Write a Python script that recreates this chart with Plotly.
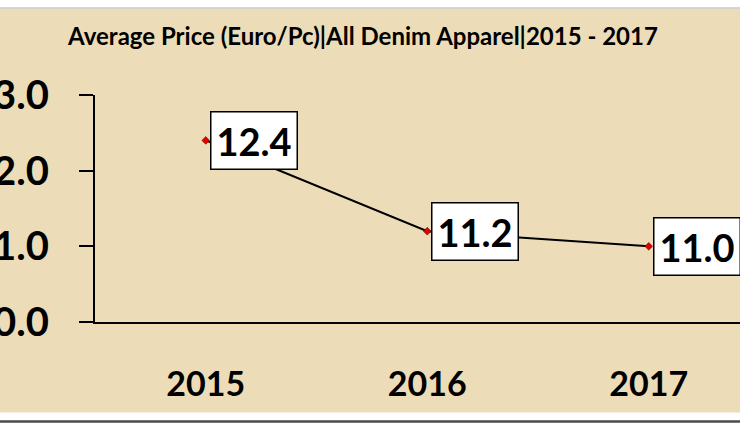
import plotly.graph_objects as go

years = ["2015", "2016", "2017"]
avg_price = [12.4, 11.2, 11.0]
y_ticks = [10.0, 11.0, 12.0, 13.0]
y_tick_labels = ["10.0", "11.0", "12.0", "13.0"]
title_text = "Average Price (Euro/Pc)|All Denim Apparel|2015 - 2017"

W, H = 740, 427
ML, MR, MT, MB = 95, 0, 95, 105
plot_h = H - MT - MB
plot_w = W - ML - MR

def py(px):  # pixel y -> paper y
    return (H - MB - px) / plot_h

def pxx(px):  # pixel x -> paper x
    return (px - ML) / plot_w

FONT = "Lato"
beige = "#ECDDB8"

fig = go.Figure()
fig.add_trace(go.Scatter(
    x=years, y=avg_price, mode="lines+markers",
    line=dict(color="black", width=2),
    marker=dict(symbol="diamond", size=6, color="#E00000",
                line=dict(color="#600000", width=0.5)),
    hoverinfo="skip", showlegend=False,
))

for i, v in enumerate(avg_price):
    fig.add_annotation(
        x=i, y=v, xref="x", yref="y", text=f"<b>{v:.1f}</b>",
        showarrow=False, xanchor="left", yanchor="middle", xshift=4,
        font=dict(family=FONT, size=38, color="black"),
        bgcolor="white", bordercolor="black", borderwidth=1.5, borderpad=5,
    )

shapes = [
    dict(type="rect", xref="paper", yref="paper", x0=pxx(0) - 0.01, x1=pxx(W) + 0.01,
         y0=py(412.5), y1=py(8.5), fillcolor=beige, line=dict(width=0), layer="below"),
    dict(type="line", xref="paper", yref="paper", x0=pxx(0) - 0.01, x1=pxx(W) + 0.01,
         y0=py(8), y1=py(8), line=dict(color="#C8C8C8", width=1.5), layer="below"),
    dict(type="line", xref="paper", yref="paper", x0=pxx(0) - 0.01, x1=pxx(W) + 0.01,
         y0=py(421.5), y1=py(421.5), line=dict(color="#4A4A4A", width=2.5), layer="below"),
]

fig.update_layout(
    width=W, height=H,
    margin=dict(l=ML, r=MR, t=MT, b=MB, pad=0),
    paper_bgcolor="white", plot_bgcolor="rgba(0,0,0,0)",
    shapes=shapes,
    title=dict(text=f"<b>{title_text}</b>", x=363 / W, xanchor="center",
               y=1 - 37 / H, yanchor="middle", yref="container",
               font=dict(family=FONT, size=24, color="black")),
    xaxis=dict(type="category", range=[-0.5, -0.5 + plot_w / 221.5],
               showgrid=False, zeroline=False, showline=True,
               linecolor="black", linewidth=2, ticks="",
               ticklabelstandoff=31,
               tickfont=dict(family=FONT, size=34, color="black"),
               tickprefix="<b>", ticksuffix="</b>"),
    yaxis=dict(range=[10, 13], tickvals=y_ticks, ticktext=[f"<b>{t}</b>" for t in y_tick_labels],
               showgrid=False, zeroline=False, showline=True,
               linecolor="black", linewidth=2, ticks="outside", ticklen=14,
               tickwidth=2, tickcolor="black", ticklabelstandoff=22,
               automargin=False,
               tickfont=dict(family=FONT, size=40, color="black")),
)

fig.write_html("out.html", config={"displayModeBar": False},
               post_script="document.body.style.margin='0';")
